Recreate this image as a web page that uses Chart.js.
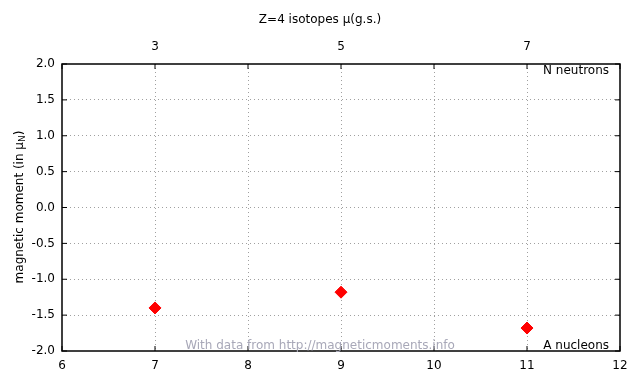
<!DOCTYPE html>
<html>
<head>
<meta charset="utf-8">
<script src="https://cdn.jsdelivr.net/npm/chart.js@4/dist/chart.umd.min.js"></script>
<style>
  html, body { margin: 0; padding: 0; background: #fff; }
  #wrap { width: 640px; height: 384px; }
</style>
</head>
<body>
<div id="wrap"><canvas id="chart" width="640" height="384"></canvas></div>
<script>
// Data
const massNumbers = [7, 9, 11];
const moments = [-1.40, -1.18, -1.68];
const neutronTicks = [3, 5, 7];
const xRange = [6, 12];
const yRange = [-2, 2];

const FONT = '"DejaVu Sans", sans-serif';

// Frame, inward tick marks and free text labels
const decorPlugin = {
    id: 'decor',
    afterDraw(chart) {
        const ctx = chart.ctx;
        const area = chart.chartArea;
        const xs = chart.scales.x;
        const ys = chart.scales.y;
        ctx.save();
        ctx.strokeStyle = '#000';
        ctx.lineWidth = 1.5;
        ctx.strokeRect(area.left, area.top, area.right - area.left, area.bottom - area.top);

        ctx.lineWidth = 1;
        xs.ticks.forEach(t => {
            const px = xs.getPixelForValue(t.value);
            ctx.beginPath();
            ctx.moveTo(px, area.bottom); ctx.lineTo(px, area.bottom - 5);
            ctx.moveTo(px, area.top); ctx.lineTo(px, area.top + 5);
            ctx.stroke();
        });
        ys.ticks.forEach(t => {
            const py = ys.getPixelForValue(t.value);
            ctx.beginPath();
            ctx.moveTo(area.left, py); ctx.lineTo(area.left + 5, py);
            ctx.moveTo(area.right, py); ctx.lineTo(area.right - 5, py);
            ctx.stroke();
        });

        ctx.fillStyle = '#000';
        ctx.font = '12px ' + FONT;
        ctx.textBaseline = 'middle';
        ctx.textAlign = 'center';
        ctx.fillText('Z=4 isotopes \u03bc(g.s.)', 320, 20);

        ctx.textAlign = 'right';
        ctx.fillText('N neutrons', area.right - 11, 71);
        ctx.fillText('A nucleons', area.right - 11, 346);

        ctx.fillStyle = '#a8a8b8';
        ctx.textAlign = 'center';
        ctx.fillText('With data from http://magneticmoments.info', 320, 346);

        // y axis title with subscript N
        ctx.fillStyle = '#000';
        ctx.translate(20, 207);
        ctx.rotate(-Math.PI / 2);
        ctx.textAlign = 'left';
        const main = 'magnetic moment (in \u03bc';
        ctx.font = '12px ' + FONT;
        const w1 = ctx.measureText(main).width;
        ctx.font = '9px ' + FONT;
        const w2 = ctx.measureText('N').width;
        ctx.font = '12px ' + FONT;
        const w3 = ctx.measureText(')').width;
        const start = -(w1 + w2 + w3) / 2;
        ctx.fillText(main, start, 0);
        ctx.font = '9px ' + FONT;
        ctx.fillText('N', start + w1, 3);
        ctx.font = '12px ' + FONT;
        ctx.fillText(')', start + w1 + w2, 0);
        ctx.restore();
    }
};

new Chart(document.getElementById('chart'), {
    type: 'scatter',
    data: {
        datasets: [{
            data: massNumbers.map((a, i) => ({ x: a, y: moments[i] })),
            pointStyle: 'rectRot',
            pointRadius: 6,
            pointHoverRadius: 6,
            backgroundColor: '#ff0000',
            borderColor: '#ff0000',
            borderWidth: 1
        }]
    },
    options: {
        responsive: false,
        animation: false,
        layout: { padding: { left: 0, right: 20, top: 0, bottom: 0 } },
        plugins: {
            legend: { display: false },
            tooltip: { enabled: false }
        },
        scales: {
            x: {
                type: 'linear',
                position: 'bottom',
                min: xRange[0],
                max: xRange[1],
                afterFit: s => { s.height = 33; },
                ticks: { stepSize: 1, color: '#000', font: { family: FONT, size: 12 }, padding: 8 },
                grid: {
                    color: c => (c.tick && (c.tick.value === xRange[0] || c.tick.value === xRange[1])) ? 'rgba(0,0,0,0)' : '#a0a0a0',
                    lineWidth: 1,
                    drawTicks: false
                },
                border: { display: false, dash: [1, 3] }
            },
            x2: {
                type: 'linear',
                position: 'top',
                min: xRange[0],
                max: xRange[1],
                afterFit: s => { s.height = 64; },
                afterBuildTicks: s => { s.ticks = massNumbers.map(v => ({ value: v })); },
                ticks: {
                    color: '#000',
                    font: { family: FONT, size: 12 },
                    padding: 10,
                    callback: (v, i) => String(neutronTicks[i])
                },
                grid: { display: false, drawTicks: false },
                border: { display: false }
            },
            y: {
                min: yRange[0],
                max: yRange[1],
                afterFit: s => { s.width = 62; },
                ticks: {
                    stepSize: 0.5,
                    color: '#000',
                    font: { family: FONT, size: 12 },
                    padding: 7,
                    callback: v => v.toFixed(1)
                },
                grid: {
                    color: c => (c.tick && (c.tick.value === yRange[0] || c.tick.value === yRange[1])) ? 'rgba(0,0,0,0)' : '#a0a0a0',
                    lineWidth: 1,
                    drawTicks: false
                },
                border: { display: false, dash: [1, 3] }
            }
        }
    },
    plugins: [decorPlugin]
});
</script>
</body>
</html>
